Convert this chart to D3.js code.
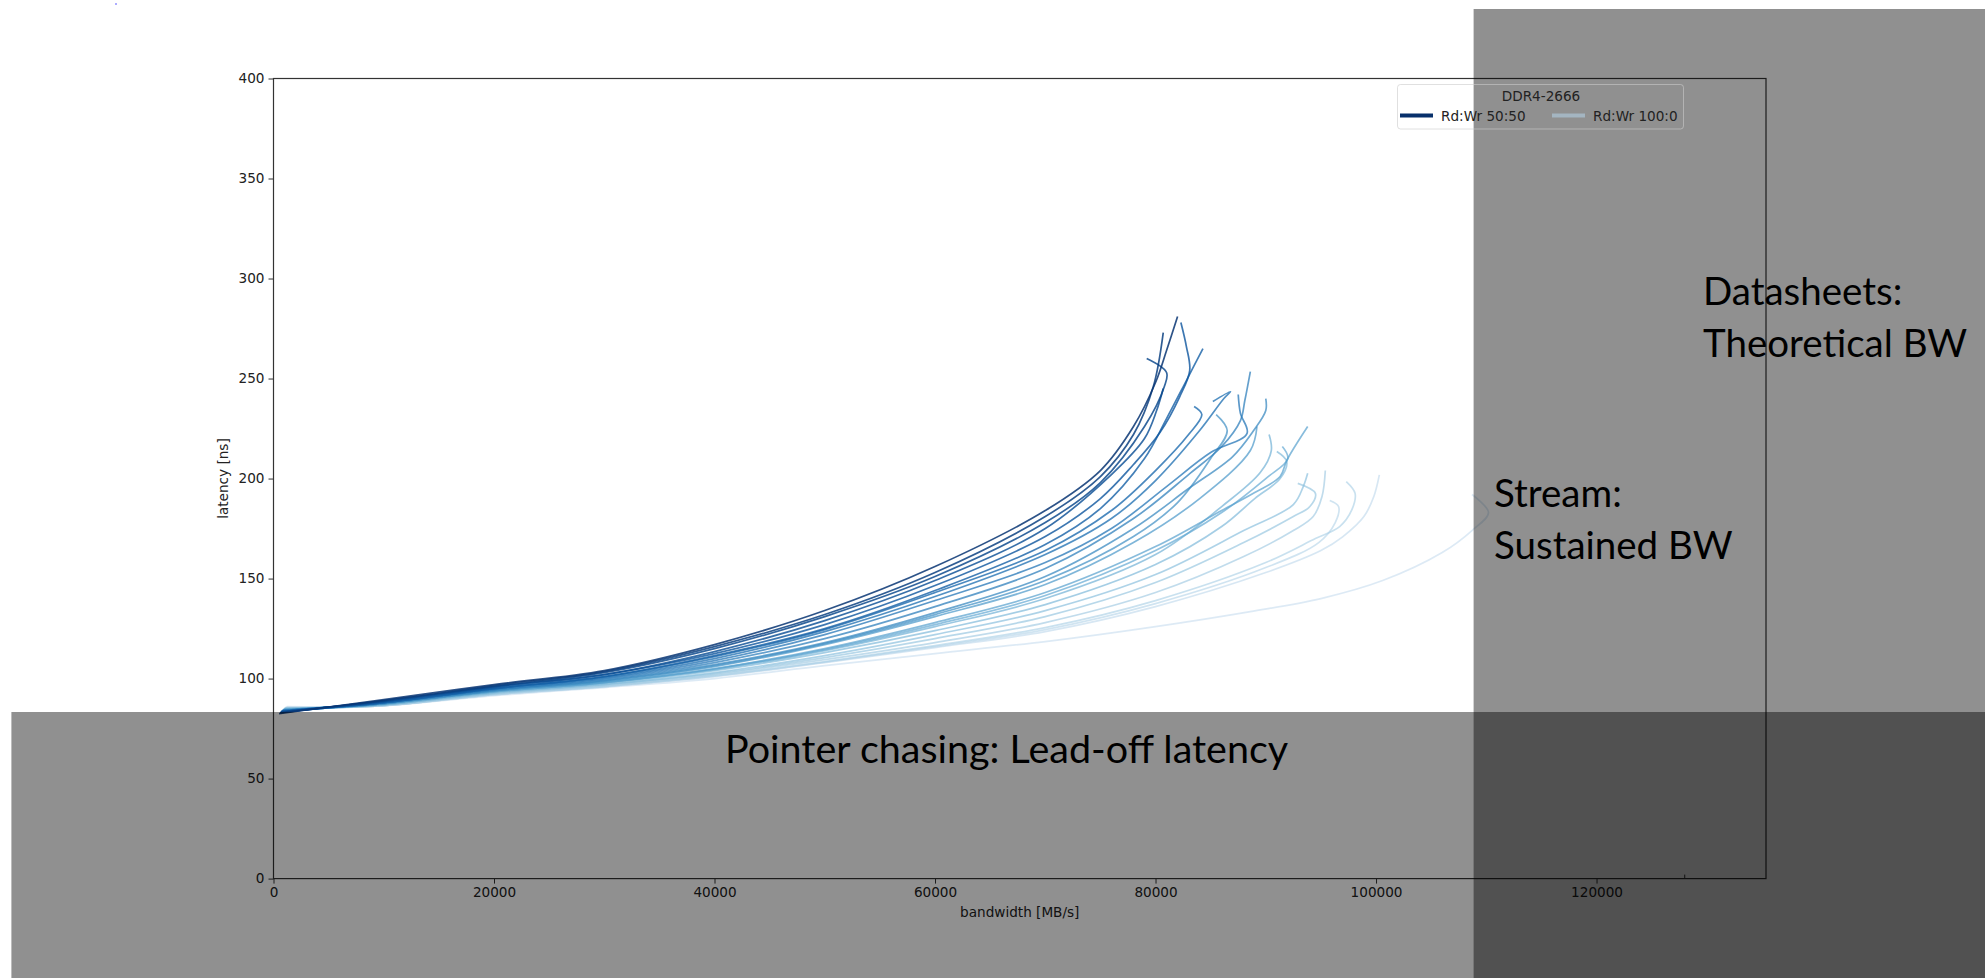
<!DOCTYPE html>
<html>
<head>
<meta charset="utf-8">
<script src="https://cdn.jsdelivr.net/npm/d3@7"></script>
<style>
  body { margin: 0; background: #fff; }
  svg { display: block; }
</style>
</head>
<body>
<svg id="viz" width="1985" height="978"></svg>
<script>
// loaded latency curves, [bandwidth MB/s, latency ns], darkest (Rd:Wr 50:50) first
var curve00 = [[500,82.5],[10000,89.5],[20000,97],[30000,104],[40000,117],[50000,134],[60000,156],[70000,184],[75000,204],[78000,226],[80000,248],[81000,264],[82000,281]];
var curve01 = [[600,83],[10000,89],[20000,96.5],[30000,103.5],[40000,116],[50000,132],[60000,153],[70000,181],[75000,201],[78000,222],[79800,246],[80700,273]];
var curve02 = [[600,83],[10000,89],[20000,96],[30000,103],[40000,115],[50000,131],[60000,151],[70000,178],[75000,198],[79000,226],[80800,246],[81000,253],[79200,260]];
var curve03 = [[700,83.5],[10000,88.5],[20000,96],[30000,102],[40000,113.5],[50000,129],[60000,149],[70000,175],[76000,202],[79000,220],[80100,234],[80700,245]];
var curve04 = [[700,83.5],[10000,88.5],[20000,95.5],[30000,102],[40000,112.5],[50000,127],[60000,146.5],[70000,171],[75000,190],[78000,207],[80400,223],[82200,241],[83100,254],[82800,266],[82300,278]];
var curve05 = [[700,83.5],[10000,88],[20000,95],[30000,101],[40000,111.5],[50000,125],[60000,144],[70000,167],[75000,185],[79000,210],[81000,230],[82800,249],[84300,265]];
var curve06 = [[700,83.5],[10000,88],[20000,95],[30000,101],[40000,111],[50000,124.5],[60000,143],[70000,164],[76000,184],[80000,204],[83000,222],[84200,232],[83500,236]];
var curve07 = [[800,84],[10000,88],[20000,95],[30000,100.5],[40000,110],[50000,123.5],[60000,141],[70000,162],[76000,180],[80000,199],[84000,224],[86200,240],[86800,243.5],[85200,238.5]];
var curve08 = [[800,84],[10000,88],[20000,94.5],[30000,100],[40000,109],[50000,122],[60000,139],[70000,158],[76000,175],[81000,196],[85000,213],[88300,222.6],[87700,232.6],[87500,242]];
var curve09 = [[800,84],[10000,88],[20000,94.5],[30000,99.5],[40000,108],[50000,120],[60000,136],[70000,155],[78000,180],[83000,202],[86000,216],[87700,229],[88100,239],[88600,253.5]];
var curve10 = [[900,84],[10000,87.5],[20000,94],[30000,99],[40000,107],[50000,118],[60000,133],[70000,151],[78000,175],[83000,195],[87000,211],[88900,224],[90000,234],[90000,240]];
var curve11 = [[900,84],[10000,87.5],[20000,94],[30000,98.8],[40000,106.5],[50000,117.5],[60000,132],[70000,149],[78000,171],[82000,188],[85000,210],[86500,224],[85500,232]];
var curve12 = [[900,84.5],[10000,87.5],[20000,94],[30000,98.5],[40000,106],[50000,117],[60000,131],[70000,147],[78000,168],[84000,190],[88600,214],[89200,226]];
var curve13 = [[900,84.5],[10000,87.5],[20000,93.5],[30000,98],[40000,105],[50000,115],[60000,128],[70000,143],[80000,166],[86000,184],[89000,193],[91300,201],[91900,209],[93800,226]];
var curve14 = [[900,84.5],[10000,87.5],[20000,93.5],[30000,98],[40000,104.8],[50000,114.5],[60000,127],[70000,141.5],[80000,164],[86000,183],[90000,200],[92000,210],[91500,216]];
var curve15 = [[1000,84.5],[10000,87],[20000,93.5],[30000,98],[40000,104.5],[50000,114],[60000,126],[70000,140],[80000,162],[86000,186],[89500,203],[90500,214],[90300,222]];
var curve16 = [[1000,85],[10000,87],[20000,93],[30000,97.5],[40000,104],[50000,113],[60000,124],[70000,137],[80000,157],[86000,176],[89000,190],[91300,200],[91900,208.5],[91000,213.5]];
var curve17 = [[1000,85],[10000,87],[20000,93],[30000,97],[40000,103],[50000,111.5],[60000,122],[70000,134],[80000,152],[88000,174],[92500,187],[93400,196],[93800,202.6]];
var curve18 = [[1000,85],[10000,87],[20000,92.5],[30000,97],[40000,102.5],[50000,110.5],[60000,120],[70000,131],[80000,148],[88000,168],[92500,181],[94000,186],[94500,192.6],[92900,197.6]];
var curve19 = [[1000,85],[10000,86.5],[20000,92.5],[30000,96.5],[40000,102],[50000,109.5],[60000,118],[70000,128],[80000,143],[88000,161],[92500,174],[94300,181],[95100,191],[95400,204]];
var curve20 = [[1100,85.5],[10000,86.5],[20000,92],[30000,96],[40000,101.5],[50000,108.5],[60000,116.5],[70000,125.5],[80000,139],[90000,158],[94500,170],[96700,176],[97800,184.3],[98100,192.6],[97300,198.5]];
var curve21 = [[1100,85.5],[10000,86.5],[20000,92],[30000,96],[40000,101.2],[50000,108.2],[60000,116],[70000,124.5],[80000,137.5],[90000,155.5],[94800,168],[96300,178],[96600,186],[95800,189]];
var curve22 = [[1100,85.5],[10000,86.5],[20000,92],[30000,96],[40000,101],[50000,108],[60000,115.5],[70000,123.5],[80000,136],[90000,153],[95000,164],[97000,171],[98900,181],[99800,191],[100300,201.8]];
var curve23 = [[1200,86],[10000,86.5],[20000,91.5],[30000,95.5],[40000,100],[50000,106.5],[60000,112.5],[70000,118.5],[80000,126],[88600,133.5],[95000,140],[100600,149],[106000,163],[108700,174],[110200,183],[108700,192]];

var curves = [curve00, curve01, curve02, curve03, curve04, curve05, curve06, curve07, curve08, curve09, curve10, curve11,
              curve12, curve13, curve14, curve15, curve16, curve17, curve18, curve19, curve20, curve21, curve22, curve23];

var xTicks = [0, 20000, 40000, 60000, 80000, 100000, 120000];
var yTicks = [0, 50, 100, 150, 200, 250, 300, 350, 400];
var legendTitle = "DDR4-2666";
var legendLabels = ["Rd:Wr 50:50", "Rd:Wr 100:0"];
var notes = ["Pointer chasing: Lead-off latency", "Stream:", "Sustained BW", "Datasheets:", "Theoretical BW"];

(function() {
    var svg = d3.select('svg#viz');
    var pL = 273.5, pR = 1766, pT = 78.5, pB = 878.6;

    var x = d3.scaleLinear().domain([0, 135370]).range([pL, pR]);
    var y = d3.scaleLinear().domain([0, 400]).range([pB, pT]);

    svg.append('defs').append('clipPath').attr('id', 'plot')
        .append('rect').attr('x', pL).attr('y', pT)
        .attr('width', pR - pL).attr('height', pB - pT);

    // curves, lightest drawn first so the dark ones sit on top
    var line = d3.line()
        .x(function(d) { return x(d[0]); })
        .y(function(d) { return y(d[1]); })
        .curve(d3.curveCatmullRom.alpha(0.5));
    var n = curves.length;
    svg.append('g').attr('clip-path', 'url(#plot)')
        .selectAll('path').data(curves.slice().reverse()).enter()
        .append('path')
        .attr('d', line)
        .attr('fill', 'none')
        .attr('stroke', function(d, i) {
            var k = n - 1 - i;
            return d3.interpolateBlues(0.98 - k * 0.74 / (n - 1));
        })
        .attr('stroke-opacity', function(d, i) {
            var k = n - 1 - i;
            return 0.85 - k * 0.25 / (n - 1);
        })
        .attr('stroke-width', 1.7)
        .attr('stroke-linejoin', 'round');

    // axes
    var font = 'DejaVu Sans, sans-serif';
    var xAxis = svg.append('g').attr('transform', 'translate(0,' + pB + ')')
        .call(d3.axisBottom(x).tickValues(xTicks).tickFormat(d3.format('d')).tickSize(5).tickPadding(4));
    var yAxis = svg.append('g').attr('transform', 'translate(' + pL + ',0)')
        .call(d3.axisLeft(y).tickValues(yTicks).tickFormat(d3.format('d')).tickSize(5).tickPadding(4));
    [xAxis, yAxis].forEach(function(a) {
        a.select('.domain').remove();
        a.selectAll('line').attr('stroke', '#333');
        a.selectAll('text').attr('fill', '#222').style('font-family', font).style('font-size', '13.6px');
    });

    // stray little tick on the bottom spine
    svg.append('line').attr('x1', x(128000)).attr('x2', x(128000))
        .attr('y1', pB).attr('y2', pB - 4).attr('stroke', '#333');

    svg.append('rect').attr('x', pL).attr('y', pT)
        .attr('width', pR - pL).attr('height', pB - pT)
        .attr('fill', 'none').attr('stroke', '#333').attr('stroke-width', 1.2);

    svg.append('text').attr('x', (pL + pR) / 2).attr('y', 917)
        .attr('text-anchor', 'middle').attr('fill', '#222')
        .style('font-family', font).style('font-size', '13.6px')
        .text('bandwidth [MB/s]');
    svg.append('text').attr('transform', 'translate(228,' + ((pT + pB) / 2) + ') rotate(-90)')
        .attr('text-anchor', 'middle').attr('fill', '#222')
        .style('font-family', font).style('font-size', '13.6px')
        .text('latency [ns]');

    // grey overlays
    svg.append('rect').attr('x', 1473.6).attr('y', 9).attr('width', 1985 - 1473.6).attr('height', 978 - 9)
        .attr('fill', '#000').attr('fill-opacity', 0.435);
    svg.append('rect').attr('x', 11.4).attr('y', 712).attr('width', 1985 - 11.4).attr('height', 978 - 712)
        .attr('fill', '#000').attr('fill-opacity', 0.435);

    // legend
    var lg = svg.append('g');
    lg.append('rect').attr('x', 1397.5).attr('y', 84.5).attr('width', 286).attr('height', 44.5)
        .attr('rx', 3).attr('fill', 'none').attr('stroke', '#ccc').attr('stroke-opacity', 0.6);
    lg.append('text').attr('x', 1541).attr('y', 101).attr('text-anchor', 'middle').attr('fill', '#222')
        .style('font-family', font).style('font-size', '13.6px').text(legendTitle);
    var entries = [
        {x: 1400, color: d3.interpolateBlues(1), opacity: 1},
        {x: 1552, color: d3.interpolateBlues(0.3), opacity: 0.55}
    ];
    lg.selectAll('line.entry').data(entries).enter().append('line')
        .attr('class', 'entry')
        .attr('x1', function(d) { return d.x; }).attr('x2', function(d) { return d.x + 33; })
        .attr('y1', 115.5).attr('y2', 115.5)
        .attr('stroke', function(d) { return d.color; })
        .attr('stroke-opacity', function(d) { return d.opacity; })
        .attr('stroke-width', 4);
    lg.selectAll('text.entry').data(entries).enter().append('text')
        .attr('class', 'entry')
        .attr('x', function(d) { return d.x + 41; }).attr('y', 120.5).attr('fill', '#222')
        .style('font-family', font).style('font-size', '13.6px')
        .text(function(d, i) { return legendLabels[i]; });

    // slide annotations
    var noteFont = 'Lato, "Open Sans", sans-serif';
    var notePos = [[725, 763], [1494, 507], [1494, 559], [1703, 305], [1703, 357]];
    svg.selectAll('text.note').data(notes).enter().append('text')
        .attr('class', 'note')
        .attr('x', function(d, i) { return notePos[i][0]; })
        .attr('y', function(d, i) { return notePos[i][1]; })
        .attr('fill', '#000')
        .style('font-family', noteFont)
        .style('font-size', function(d, i) { return i === 0 ? '39.5px' : '38.5px'; })
        .text(function(d) { return d; });

    // tiny blue speck top-left
    svg.append('circle').attr('cx', 116).attr('cy', 4).attr('r', 0.8).attr('fill', '#44f');
})();
</script>
</body>
</html>
